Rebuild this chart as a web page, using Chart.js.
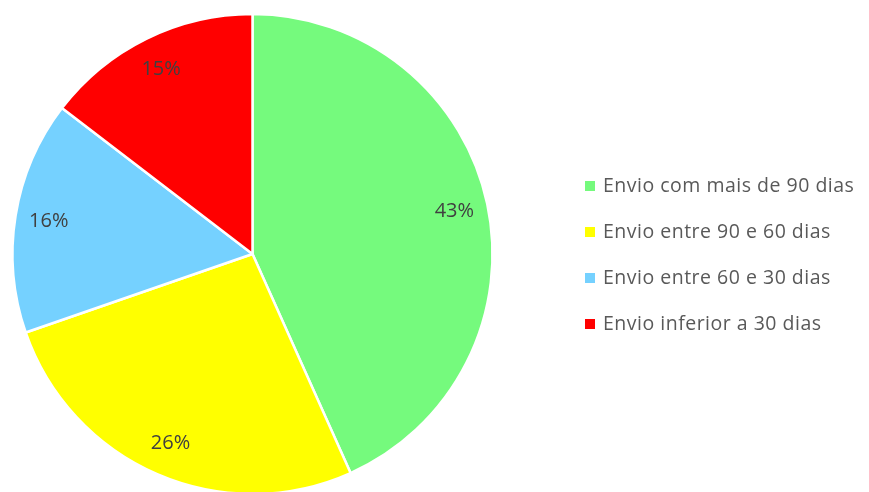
<!DOCTYPE html>
<html>
<head>
<meta charset="utf-8">
<script src="https://cdn.jsdelivr.net/npm/chart.js@4"></script>
<style>
  html, body { margin: 0; padding: 0; background: #fff; overflow: hidden; }
  #wrap { width: 869px; height: 492px; position: relative; overflow: hidden; }
</style>
</head>
<body>
<div id="wrap"><canvas id="pie" width="869" height="500"></canvas></div>
<script>
const labels = ['Envio com mais de 90 dias', 'Envio entre 90 e 60 dias', 'Envio entre 60 e 30 dias', 'Envio inferior a 30 dias'];
const values = [43.3, 26.4, 15.7, 14.6];
const colors = ['#75FA7D', '#FFFF00', '#75D1FF', '#FF0000'];

// percent labels inside slices, like Excel "best fit"
const sliceLabels = {
  id: 'sliceLabels',
  afterDatasetsDraw(chart) {
    const ctx = chart.ctx;
    const meta = chart.getDatasetMeta(0);
    const total = values.reduce((a, b) => a + b, 0);
    ctx.save();
    ctx.font = '20px "Open Sans"';
    ctx.fillStyle = '#404040';
    ctx.textAlign = 'center';
    ctx.textBaseline = 'middle';
    meta.data.forEach((arc, i) => {
      const mid = (arc.startAngle + arc.endAngle) / 2;
      const r = arc.outerRadius * 0.86;
      const x = arc.x + Math.cos(mid) * r;
      const y = arc.y + Math.sin(mid) * r;
      ctx.fillText(Math.round(values[i] / total * 100) + '%', x, y);
    });
    ctx.restore();
  }
};

// legend on the right side
const sideLegend = {
  id: 'sideLegend',
  afterDraw(chart) {
    const ctx = chart.ctx;
    ctx.save();
    ctx.font = '19.5px "Open Sans"';
    ctx.letterSpacing = '0.5px';
    ctx.textBaseline = 'middle';
    labels.forEach((lab, i) => {
      const y = 186 + i * 46;
      ctx.fillStyle = colors[i];
      ctx.fillRect(585, y - 5, 10, 10);
      ctx.fillStyle = '#595959';
      ctx.fillText(lab, 603, y);
    });
    ctx.restore();
  }
};

new Chart(document.getElementById('pie').getContext('2d'), {
  type: 'pie',
  data: {
    labels: labels,
    datasets: [{
      data: values,
      backgroundColor: colors,
      borderColor: '#ffffff',
      borderWidth: 2.5
    }]
  },
  options: {
    responsive: false,
    animation: false,
    layout: { padding: { left: 11.25, right: 375.25, top: 12.75, bottom: 4.75 } },
    plugins: {
      legend: { display: false },
      tooltip: { enabled: false }
    }
  },
  plugins: [sliceLabels, sideLegend]
});
</script>
</body>
</html>
